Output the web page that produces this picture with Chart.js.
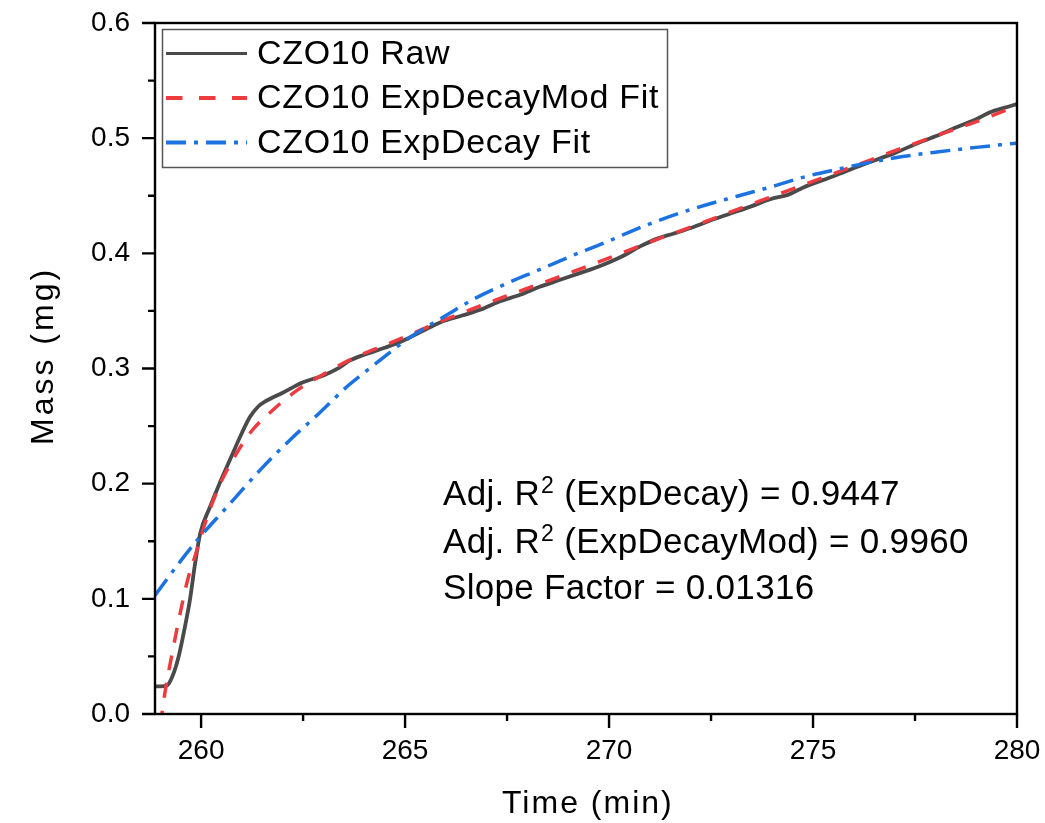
<!DOCTYPE html>
<html>
<head>
<meta charset="utf-8">
<script src="https://cdn.jsdelivr.net/npm/chart.js@4.4.1/dist/chart.umd.min.js"></script>
<style>
html,body{margin:0;padding:0;background:#fff;}
#wrap{width:1045px;height:823px;position:relative;}
canvas{display:block;}
</style>
</head>
<body>
<div id="wrap"><canvas id="c" width="1045" height="823" style="width:1045px;height:823px"></canvas></div>
<script>
// ---- Data ----
const rawT = [258.87,259.0,259.17,259.3,259.45,259.6,259.73,259.85,259.98,260.22,260.45,260.71,261.0,261.2,261.4,261.6,262.0,262.5,263.0,263.4,263.65,264.0,264.5,264.88,265.4,265.86,266.4,266.84,267.3,267.82,268.3,268.8,269.3,269.78,270.3,270.76,271.2,271.57,272.0,272.6,273.14,273.5,273.95,274.4,274.75,275.5,276.22,277.0,277.62,278.1,278.53,279.0,279.34,279.7,280.0];
const rawM = [0.024,0.024,0.025,0.033,0.05,0.075,0.10,0.13,0.157,0.18,0.20,0.221,0.244,0.258,0.267,0.272,0.279,0.288,0.294,0.301,0.307,0.312,0.318,0.323,0.332,0.340,0.346,0.351,0.358,0.364,0.371,0.377,0.383,0.389,0.397,0.406,0.413,0.417,0.422,0.430,0.4365,0.441,0.447,0.451,0.457,0.467,0.477,0.487,0.4965,0.503,0.5096,0.5165,0.5225,0.5265,0.5296];

const modT = [259.0,259.12,259.31,259.49,259.66,259.85,260.15,260.47,260.78,261.2,261.76,262.35,263.0,263.73,264.63,265.29,266.02,267.49,269.04,269.78,270.51,271.32,271.98,273.7,275.34,277.54,279.17,280.0];
const modM = [-0.01,0.02,0.056,0.088,0.115,0.137,0.171,0.200,0.221,0.244,0.264,0.281,0.295,0.309,0.322,0.332,0.343,0.363,0.383,0.393,0.403,0.414,0.4225,0.4455,0.467,0.496,0.5165,0.528];

const expT = [258.87,259.5,259.93,260.64,261.45,262.18,262.92,263.6,264.2,265.12,266.0,266.67,267.5,268.31,269.1,269.95,270.6,271.18,272.0,273.14,274.0,274.75,275.6,276.4,277.2,278.04,279.0,280.0];
const expM = [0.103,0.133,0.152,0.18,0.212,0.238,0.262,0.285,0.302,0.327,0.346,0.36,0.374,0.386,0.398,0.41,0.42,0.428,0.438,0.4496,0.458,0.466,0.473,0.479,0.484,0.488,0.492,0.4957];

const xTicks = [260,265,270,275,280];
const xMinorTicks = [262.5,267.5,272.5,277.5];
const yTicks = [0.0,0.1,0.2,0.3,0.4,0.5,0.6];
const yMinorTicks = [0.05,0.15,0.25,0.35,0.45,0.55];

const seriesNames = ['CZO10 Raw','CZO10 ExpDecayMod Fit','CZO10 ExpDecay Fit'];
const annotLines = [
  ['Adj. R','2',' (ExpDecay) = 0.9447'],
  ['Adj. R','2',' (ExpDecayMod) = 0.9960'],
  ['Slope Factor = 0.01316','','']
];
const xTitle = 'Time (min)';
const yTitle = 'Mass (mg)';

const FONT = '"Liberation Sans", Arial, Helvetica, sans-serif';
const COL_RAW = '#4a4a4a', COL_MOD = '#ee3b40', COL_EXP = '#1b72e0';

function pts(t, m){ return t.map((v,i)=>({x:v, y:m[i]})); }

const decorPlugin = {
  id:'decor',
  afterDraw(chart){
    const ctx = chart.ctx, a = chart.chartArea;
    const xs = chart.scales.x, ys = chart.scales.y;
    ctx.save();
    // frame
    ctx.strokeStyle = '#000'; ctx.lineWidth = 2.4;
    ctx.strokeRect(a.left, a.top, a.right - a.left, a.bottom - a.top);
    // ticks
    ctx.beginPath();
    xTicks.forEach(v=>{ const p = xs.getPixelForValue(v); ctx.moveTo(p, a.bottom); ctx.lineTo(p, a.bottom+14); });
    xMinorTicks.forEach(v=>{ const p = xs.getPixelForValue(v); ctx.moveTo(p, a.bottom); ctx.lineTo(p, a.bottom+7); });
    yTicks.forEach(v=>{ const p = ys.getPixelForValue(v); ctx.moveTo(a.left, p); ctx.lineTo(a.left-13, p); });
    yMinorTicks.forEach(v=>{ const p = ys.getPixelForValue(v); ctx.moveTo(a.left, p); ctx.lineTo(a.left-7, p); });
    ctx.stroke();

    ctx.fillStyle = '#000';
    // x title
    ctx.font = '32px ' + FONT;
    ctx.letterSpacing = '2px';
    ctx.textAlign = 'left'; ctx.textBaseline = 'alphabetic';
    ctx.fillText(xTitle, 502, 813);
    // y title
    ctx.save();
    ctx.translate(53, 445);
    ctx.rotate(-Math.PI/2);
    ctx.font = '32px ' + FONT;
    ctx.letterSpacing = '3px';
    ctx.fillText(yTitle, 0, 0);
    ctx.restore();

    // legend
    ctx.letterSpacing = '0px';
    ctx.strokeStyle = '#555'; ctx.lineWidth = 1.5;
    ctx.strokeRect(162.5, 29.5, 505, 138);
    const rows = [53.5, 98, 142.5];
    const styles = [
      {c:COL_RAW, w:3, d:[]},
      {c:COL_MOD, w:4, d:[16.5,16.5]},
      {c:COL_EXP, w:4, d:[20,8,4,8]}
    ];
    styles.forEach((s,i)=>{
      ctx.beginPath();
      ctx.strokeStyle = s.c; ctx.lineWidth = s.w; ctx.setLineDash(s.d); ctx.lineCap='butt';
      ctx.moveTo(166, rows[i]); ctx.lineTo(247, rows[i]); ctx.stroke();
    });
    ctx.setLineDash([]);
    ctx.font = '34px ' + FONT;
    ctx.letterSpacing = '0.7px';
    ctx.textBaseline = 'middle';
    ctx.fillStyle = '#000';
    seriesNames.forEach((n,i)=>ctx.fillText(n, 257, rows[i]+1));

    // annotation
    ctx.letterSpacing = '0.3px';
    ctx.textBaseline = 'alphabetic';
    const base = [505, 553, 599];
    annotLines.forEach((parts,i)=>{
      let x = 443;
      ctx.font = '35px ' + FONT;
      ctx.fillText(parts[0], x, base[i]);
      x += ctx.measureText(parts[0]).width;
      if(parts[1]){
        ctx.font = '23px ' + FONT;
        ctx.fillText(parts[1], x+1, base[i]-12);
        x += ctx.measureText(parts[1]).width + 1;
        ctx.font = '35px ' + FONT;
        ctx.fillText(parts[2], x, base[i]);
      }
    });
    ctx.restore();
  }
};

new Chart(document.getElementById('c'), {
  type:'line',
  data:{
    datasets:[
      {label:seriesNames[2], data:pts(expT,expM), borderColor:COL_EXP, borderWidth:3.5, borderDash:[20,8,4,8], pointRadius:0, cubicInterpolationMode:'monotone', clip:0, order:1, fill:false},
      {label:seriesNames[1], data:pts(modT,modM), borderColor:COL_MOD, borderWidth:3.5, borderDash:[15,13], pointRadius:0, cubicInterpolationMode:'monotone', clip:0, order:2, fill:false},
      {label:seriesNames[0], data:pts(rawT,rawM), borderColor:COL_RAW, borderWidth:3.8, pointRadius:0, cubicInterpolationMode:'monotone', clip:0, order:3, fill:false}
    ]
  },
  options:{
    responsive:false, animation:false, devicePixelRatio:1,
    layout:{padding:{left:0,right:28,top:23,bottom:0}},
    plugins:{legend:{display:false}, tooltip:{enabled:false}},
    scales:{
      x:{type:'linear', min:258.87, max:280,
        afterBuildTicks:s=>{ s.ticks = xTicks.map(v=>({value:v})); },
        afterFit:s=>{ s.height = 109; s.paddingLeft = 0; s.paddingRight = 0; },
        grid:{display:false, drawTicks:false}, border:{display:false},
        ticks:{color:'#000', font:{family:FONT, size:28}, padding:20, maxRotation:0, autoSkip:false, callback:v=>String(v)}
      },
      y:{type:'linear', min:0, max:0.6,
        afterBuildTicks:s=>{ s.ticks = yTicks.map(v=>({value:v})); },
        afterFit:s=>{ s.width = 155; s.paddingTop = 0; s.paddingBottom = 0; },
        grid:{display:false, drawTicks:false}, border:{display:false},
        ticks:{color:'#000', font:{family:FONT, size:28}, padding:25, autoSkip:false, callback:v=>Number(v).toFixed(1)}
      }
    }
  },
  plugins:[decorPlugin]
});
</script>
</body>
</html>
